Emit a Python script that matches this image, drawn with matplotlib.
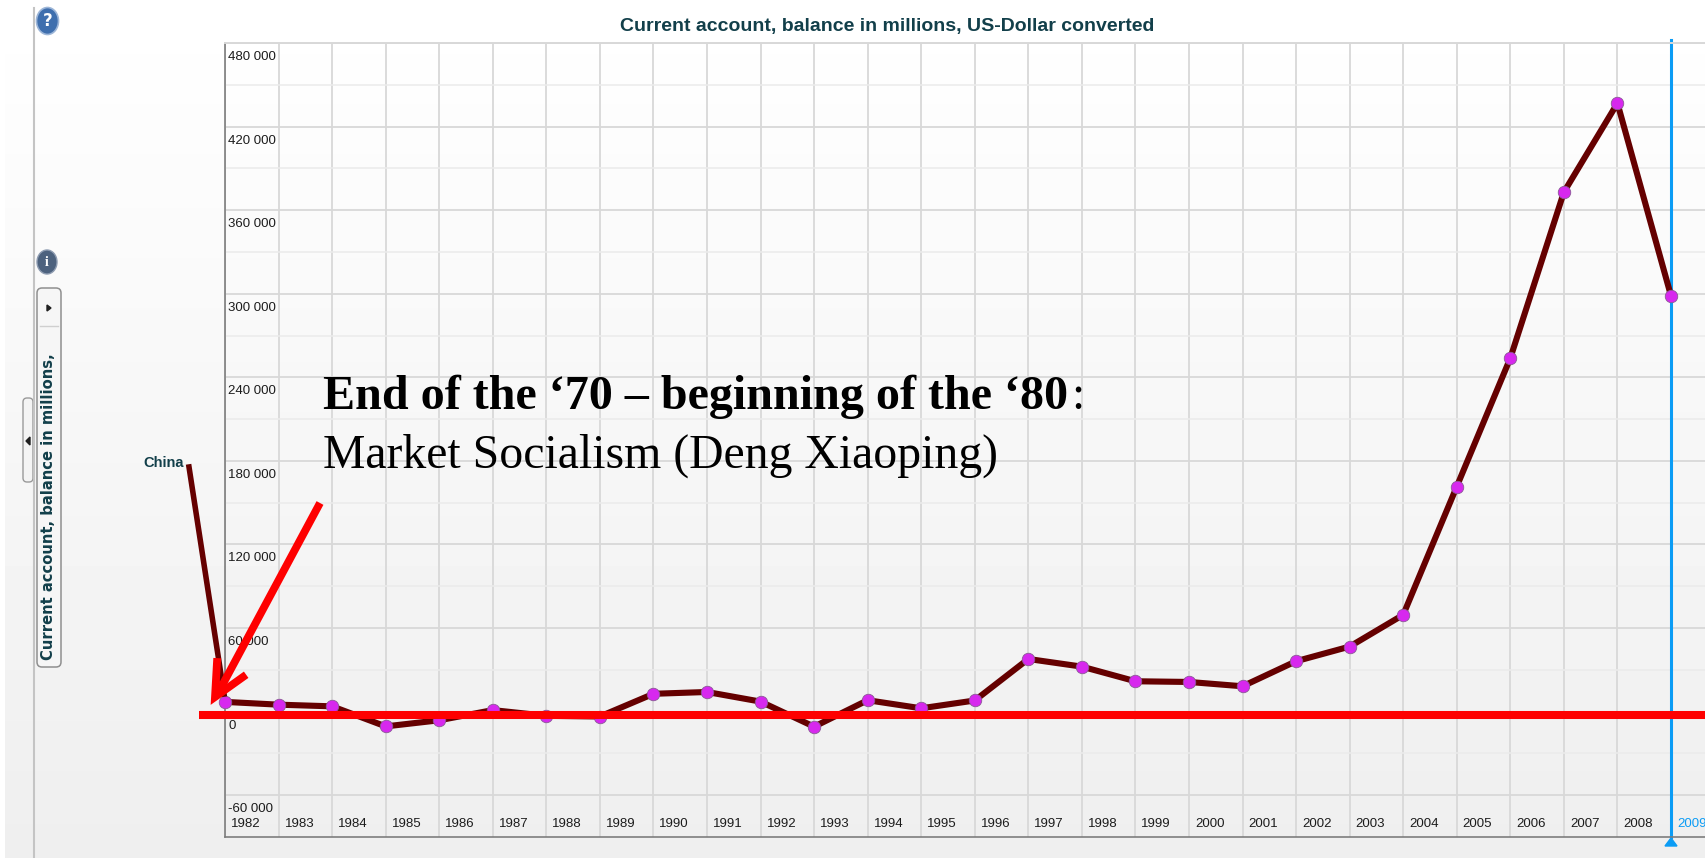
import numpy as np
import matplotlib
matplotlib.use("Agg")
import matplotlib.pyplot as plt
from matplotlib.patches import Ellipse, FancyBboxPatch, Polygon


# data
years = list(range(1982, 2010))
balance = [7000, 5000, 3800, -10600, -6200, 1100, -3000, -3500, 12800, 14100,
           7200, -10800, 8200, 2400, 8000, 37800, 32300, 21800, 21300, 18200,
           36200, 46700, 69500, 161600, 253800, 372900, 436800, 298500]
y_major = [-60000, 0, 60000, 120000, 180000, 240000, 300000, 360000, 420000, 480000]
y_minor = [-30000, 30000, 90000, 150000, 210000, 270000, 330000, 390000, 450000]
y_labels = ["-60 000", "0", "60 000", "120 000", "180 000", "240 000", "300 000",
            "360 000", "420 000", "480 000"]
title = "Current account, balance in millions, US-Dollar converted"
side_title = "Current account, balance in millions,"
series_name = "China"
note_bold = "End of the ‘70 – beginning of the ‘80"
note_plain = "Market Socialism (Deng Xiaoping)"

W, H = 1705, 858
sans = "Liberation Sans"
teal = "#123f4a"
grid_col = "#d8d8d8"
grid_light = "#ebebeb"

fig = plt.figure(figsize=(W / 100, H / 100), dpi=100)

# page background, white at top going grey
bg = fig.add_axes([0, 0, 1, 1], zorder=0)
bg.imshow(np.linspace(1, 0.935, 256).reshape(-1, 1), cmap="gray", vmin=0, vmax=1,
          aspect="auto", extent=[5, W, H, 0])
bg.set_xlim(0, W)
bg.set_ylim(H, 0)
bg.axis("off")

# main chart
ax = fig.add_axes([225 / W, 1 - 837 / H, (W - 225) / W, (837 - 43) / H], zorder=1)
ax.patch.set_alpha(0)
ax.set_xlim(1982, 2009.635)
ax.set_ylim(-90000, 480000)
ax.set_xticks(years)
ax.set_yticks(y_major)
ax.set_yticks(y_minor, minor=True)
ax.tick_params(which="both", length=0, labelbottom=False, labelleft=False)
ax.grid(True, which="major", color=grid_col, lw=1.3)
ax.grid(True, which="minor", axis="y", color=grid_light, lw=1.1)
ax.set_axisbelow(True)
ax.spines["right"].set_visible(False)
ax.spines["top"].set_color(grid_col)
ax.spines["top"].set_linewidth(1.4)
ax.spines["left"].set_color("#7d7d7d")
ax.spines["bottom"].set_color("#7d7d7d")
ax.spines["left"].set_linewidth(1.2)
ax.spines["bottom"].set_linewidth(1.2)

ax.axvline(years[-1], color="#0b9cf5", lw=2.2, zorder=2, ymax=1.004, clip_on=False)
ax.plot(years, balance, color="#650000", lw=4.4, zorder=3, marker="o", ms=9,
        mfc="#d728ee", mec="#8a5a96", mew=0.6, clip_on=False)

for v, lab in zip(y_major, y_labels):
    ax.annotate(lab, (1982, v), xytext=(3, -14), textcoords="offset pixels",
                ha="left", va="center", fontsize=9.5, family=sans, color="#1c1c1c")
for yr in years:
    ax.annotate(str(yr), (yr, -90000), xytext=(6, 13), textcoords="offset pixels",
                ha="left", va="center", fontsize=9.5, family=sans,
                color="#0b9cf5" if yr == years[-1] else "#1c1c1c")

# everything drawn over the chart, in pixels of the picture
top = fig.add_axes([0, 0, 1, 1], zorder=2)
top.patch.set_alpha(0)
top.set_xlim(0, W)
top.set_ylim(H, 0)
top.axis("off")

top.text(887, 26, title, ha="center", va="center", fontsize=14, family=sans,
         weight="bold", color=teal)
top.text(184, 463, series_name, ha="right", va="center", fontsize=10.5, family=sans,
         weight="bold", color=teal)
# leader from the series name down to the first point, stops short of the marker
top.plot([189, 224], [467, 694], color="#650000", lw=4, zorder=2)
top.text(323, 397, note_bold, ha="left", va="center", fontsize=34.6,
         family="Liberation Serif", weight="bold", color="black")
top.text(1071, 397, ":", ha="left", va="center", fontsize=34.6,
         family="Liberation Serif", color="black")
top.text(323, 456, note_plain, ha="left", va="center", fontsize=34.4,
         family="Liberation Serif", color="black")

# red marks
top.plot([199, W], [715, 715], color="#fe0000", lw=5.8, solid_capstyle="butt", zorder=5)
top.plot([320, 217], [503, 695], color="#fe0000", lw=5.6, solid_capstyle="butt", zorder=5)
top.plot([217, 215, 243], [662, 697, 677], color="#fe0000", lw=5.6, zorder=5,
         solid_joinstyle="miter")

# blue cursor foot
top.add_patch(Polygon([[1665, 846], [1677, 846], [1671, 838]], color="#0b9cf5", zorder=4))

# left side bar
top.plot([34, 34], [8, H], color="#c4c4c4", lw=1.5)
top.add_patch(Ellipse((47.5, 21), 22, 27, fc="#3f6fae", ec="#9db6d8", lw=1.2))
top.text(47.5, 21, "?", ha="center", va="center", color="white", fontsize=12, weight="bold")
top.add_patch(Ellipse((47, 262), 20, 24, fc="#4d627e", ec="#8d9bb0", lw=1))
top.text(47, 262, "i", ha="center", va="center", color="white", fontsize=10, weight="bold",
         family="Liberation Serif")
top.add_patch(FancyBboxPatch((37, 288), 24, 379, boxstyle="round,pad=0,rounding_size=5",
                             fc="#f6f6f6", ec="#8f8f8f", lw=1.1))
top.plot([40, 58], [326, 326], color="#cfcfcf", lw=1)
top.add_patch(Polygon([[47, 305], [47, 311], [51, 308]], color="#202020"))
top.text(49, 660, side_title, rotation=90, ha="center", va="bottom", fontsize=10.6,
         family="DejaVu Sans", weight="bold", color=teal)
top.add_patch(FancyBboxPatch((23, 398), 10, 84, boxstyle="round,pad=0,rounding_size=4",
                             fc="#f4f4f4", ec="#9a9a9a", lw=1))
top.add_patch(Polygon([[30, 437], [30, 445], [26, 441]], color="#202020"))

fig.savefig("out.png", dpi=100)
